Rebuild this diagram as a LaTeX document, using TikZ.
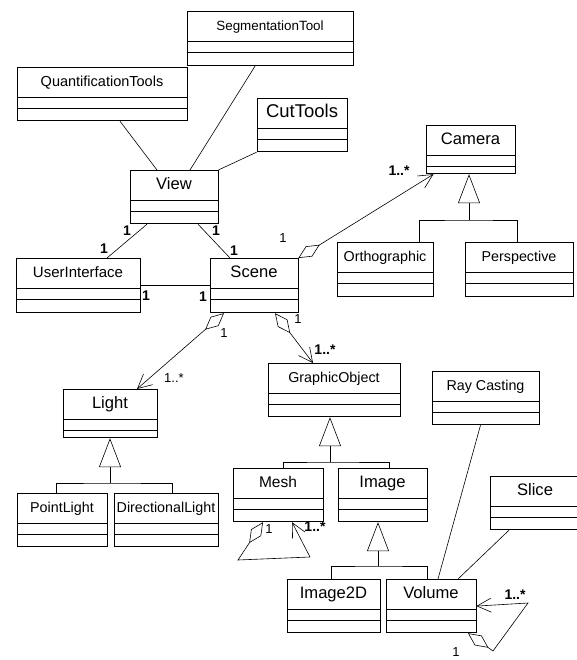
\documentclass[tikz,border=0pt]{standalone}
\usepackage{fontspec}
\setmainfont{Liberation Sans}
\usetikzlibrary{shapes.multipart,arrows.meta}
\tikzset{
  umlclass/.style={draw,line width=0.8pt,rectangle split,rectangle split parts=3,
    inner xsep=0pt,inner ysep=0pt,anchor=north,font=\fontsize{14.3}{16}\selectfont},
  bigname/.style={font=\fontsize{16.6}{18}\selectfont},
  assoc/.style={line width=0.6pt},
  gen/.style={line width=0.6pt,-{Triangle[open,length=29pt,width=22pt]}},
  agg/.style={line width=0.6pt,{Diamond[open,length=25pt,width=12pt]}-{Straight Barb[length=14pt,width=14pt]}},
  mult/.style={font=\fontsize{14}{14}\bfseries\selectfont,inner sep=0pt},
  multn/.style={font=\fontsize{13}{13}\selectfont,inner sep=0pt},
}
\newcommand{\classparts}[2][12pt]{\rule[-10pt]{0pt}{29pt}#2\nodepart{second}\rule{0pt}{10pt}\nodepart{third}\rule{0pt}{#1}}

\begin{document}
\begin{tikzpicture}[x=1pt,y=-1pt]
    \useasboundingbox (0,0) rectangle (577,660);
    % classes
    \node[umlclass,minimum width=166pt,font=\fontsize{13.4}{15}\selectfont] (seg) at (270,11) {\classparts[13pt]{SegmentationTool}};
    \node[umlclass,minimum width=170pt,font=\fontsize{14.5}{16}\selectfont] (quant) at (102,67) {\classparts{QuantificationTools}};
    \node[umlclass,minimum width=90pt,font=\fontsize{18.5}{20}\selectfont] (cut) at (302,98) {\classparts{CutTools}};
    \node[umlclass,bigname,minimum width=88pt] (view) at (174,170) {\classparts{View}};
    \node[umlclass,bigname,minimum width=89pt] (camera) at (470.5,125) {\classparts[7pt]{Camera}};
    \node[umlclass,minimum width=96pt] (ortho) at (385,242) {\classparts[13pt]{Orthographic}};
    \node[umlclass,minimum width=108pt] (persp) at (519,242) {\classparts[13pt]{Perspective}};
    \node[umlclass,minimum width=124pt,font=\fontsize{15}{17}\selectfont] (ui) at (78,258) {\classparts[13pt]{UserInterface}};
    \node[umlclass,bigname,minimum width=88pt] (scene) at (254,258) {\classparts[13pt]{Scene}};
    \node[umlclass,bigname,minimum width=94pt] (light) at (110,389) {\classparts[7pt]{Light}};
    \node[umlclass,minimum width=90pt] (plight) at (62,493) {\classparts{PointLight}};
    \node[umlclass,minimum width=104pt] (dlight) at (166,493) {\classparts{DirectionalLight}};
    \node[umlclass,minimum width=132pt] (gobj) at (334,363) {\classparts{GraphicObject}};
    \node[umlclass,minimum width=90pt,font=\fontsize{15.5}{17}\selectfont] (mesh) at (278,468) {\classparts{Mesh}};
    \node[umlclass,bigname,minimum width=89pt] (image) at (382.5,468) {\classparts{Image}};
    \node[umlclass,minimum width=107pt] (ray) at (485.5,371) {\classparts{Ray Casting}};
    \node[umlclass,bigname,minimum width=90pt] (slice) at (535,476) {\classparts{Slice}};
    \node[umlclass,bigname,minimum width=93pt] (img2d) at (333.5,579) {\classparts{Image2D}};
    \node[umlclass,bigname,minimum width=90pt] (volume) at (431,579) {\classparts{Volume}};

    % generalizations
    \coordinate (cambus) at (469,220);
    \draw[gen] (cambus) -- (camera.south -| cambus);
    \draw[assoc] ([xshift=34pt]ortho.north) |- (cambus) -| ([xshift=-2pt]persp.north);
    \coordinate (lightbus) at (110,483);
    \draw[gen] (lightbus) -- (light.south);
    \draw[assoc] ([xshift=-6pt]plight.north) |- (lightbus) -| ([xshift=6pt]dlight.north);
    \coordinate (gobus) at (330,462);
    \draw[gen] (gobus) -- (gobj.south -| gobus);
    \draw[assoc] ([xshift=5pt]mesh.north) |- (gobus) -| ([xshift=6.5pt]image.north);
    \coordinate (imgbus) at (378,566);
    \draw[gen] (imgbus) -- (image.south -| imgbus);
    \draw[assoc] ([xshift=-2.5pt]img2d.north) |- (imgbus) -| ([xshift=-4pt]volume.north);

    % associations
    \draw[assoc] ([xshift=18pt]quant.south) -- ([xshift=-17pt]view.north);
    \draw[assoc] ([xshift=-15pt]seg.south) -- ([xshift=16pt]view.north);
    \draw[assoc] (cut.south west) -- (view.north east);
    \draw[assoc] ([xshift=-27pt]view.south) -- ([xshift=29pt]ui.north);
    \draw[assoc] ([xshift=24pt]view.south) -- ([xshift=-24pt]scene.north);
    \draw[assoc] (ui.east) -- (scene.west);
    \draw[assoc] ([xshift=-5pt]ray.south) -- ([xshift=7pt]volume.north);
    \draw[assoc] ([xshift=-26pt]slice.south) -- ([xshift=27pt]volume.north);

    % aggregations
    \draw[agg] (scene.north east) -- ([xshift=-37pt]camera.south);
    \draw[agg] ([xshift=-30pt]scene.south) -- ([xshift=27pt]light.north);
    \draw[agg] ([xshift=21pt]scene.south) -- ([xshift=-21pt]gobj.north);
    \coordinate (meshla) at (238,560);
    \coordinate (meshlb) at (310,557);
    \draw[agg] ([xshift=-15pt]mesh.south) -- (meshla) -- (meshlb) -- ([xshift=14pt]mesh.south);
    \coordinate (volla) at (493,651);
    \coordinate (vollb) at (528,603);
    \draw[agg] ([xshift=37pt]volume.south) -- (volla) -- (vollb) -- (volume.east);

    % multiplicities
    \node[mult] (mvu) at (127,231) {1};
    \node[mult] (muv) at (104,249) {1};
    \node[mult] (mvs) at (216,231) {1};
    \node[mult] (msv) at (234,251) {1};
    \node[mult] (mus) at (146,296) {1};
    \node[mult] (msu) at (203,297) {1};
    \node[multn] (msc) at (283,238) {1};
    \node[mult] (mcs) at (399,171) {1..*};
    \node[multn] (msl) at (224,333) {1};
    \node[multn] (mls) at (174,378) {1..*};
    \node[multn] (msg) at (298,319) {1};
    \node[mult] (mgs) at (325,350) {1..*};
    \node[multn] (mma) at (269,529) {1};
    \node[mult] (mmb) at (315,527) {1..*};
    \node[mult] (mvb) at (515,595) {1..*};
    \node[multn] (mva) at (456,652) {1};
\end{tikzpicture}
\end{document}
